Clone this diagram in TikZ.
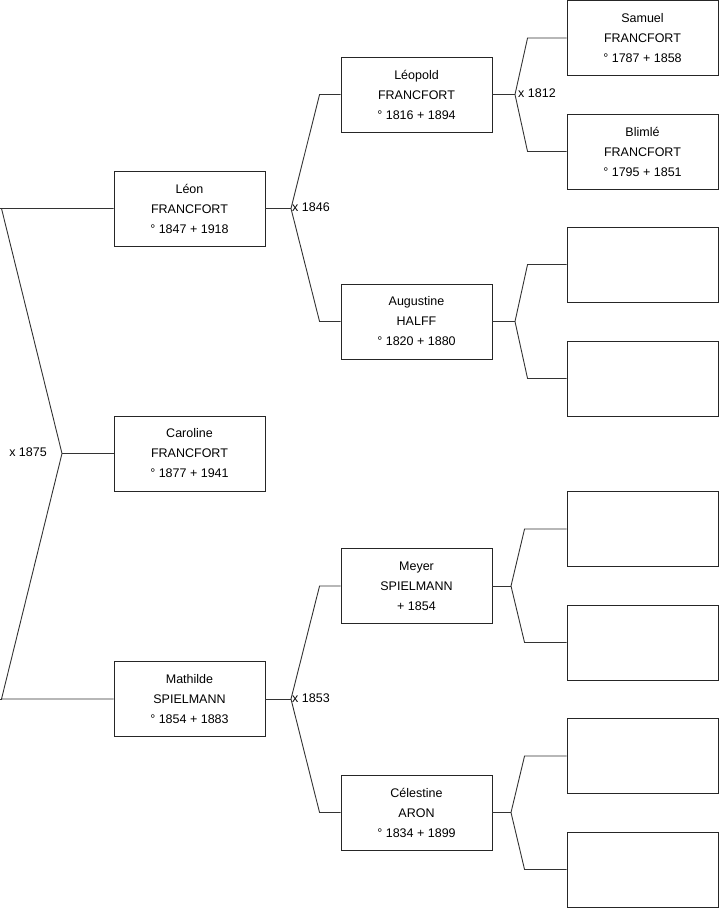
\documentclass[tikz,border=0pt]{standalone}
\usepackage{fontspec}
\setmainfont{Liberation Sans}
\begin{document}
\begin{tikzpicture}[x=1pt,y=-1pt,
  person/.style={draw=black!85,line width=0.9pt,minimum width=151pt,minimum height=75pt,inner sep=0pt,align=center,font=\fontsize{12.5}{20}\selectfont},
  link/.style={draw=black!80,line width=0.9pt},
  mlabel/.style={inner sep=1pt,font=\fontsize{12.5}{15}\selectfont}]
\useasboundingbox (0,0) rectangle (719,908);
% level 1
\node[person] (leon) at (189.5,208.5) {Léon\\FRANCFORT\\° 1847 + 1918};
\node[person] (caroline) at (189.5,453.5) {Caroline\\FRANCFORT\\° 1877 + 1941};
\node[person] (mathilde) at (189.5,699) {Mathilde\\SPIELMANN\\° 1854 + 1883};
% level 2
\node[person] (leopold) at (416.5,94.5) {Léopold\\FRANCFORT\\° 1816 + 1894};
\node[person] (augustine) at (416.5,321.5) {Augustine\\HALFF\\° 1820 + 1880};
\node[person] (meyer) at (416.5,586) {Meyer\\SPIELMANN\\+ 1854};
\node[person] (celestine) at (416.5,812.5) {Célestine\\ARON\\° 1834 + 1899};
% level 3
\node[person] (samuel) at (642.5,38) {Samuel\\FRANCFORT\\° 1787 + 1858};
\node[person] (blimle) at (642.5,151.5) {Blimlé\\FRANCFORT\\° 1795 + 1851};
\node[person] (e1) at (642.5,264.5) {};
\node[person] (e2) at (642.5,378.5) {};
\node[person] (e3) at (642.5,529) {};
\node[person] (e4) at (642.5,642.5) {};
\node[person] (e5) at (642.5,756) {};
\node[person] (e6) at (642.5,869.5) {};
% fork points
\coordinate (froot) at (62,453.5);
\coordinate (fleon) at (291,208.5);
\coordinate (fmath) at (291,699);
\coordinate (fleop) at (515,94.5);
\coordinate (faug) at (515,321.5);
\coordinate (fmey) at (511,586);
\coordinate (fcel) at (511,812.5);
% root
\draw[link] (froot) -- (caroline.west);
\draw[link] (froot) -- (1.5,208.5) -- (leon.west);
\draw[link] (1.5,208.5) -- (0,208.5);
\draw[link] (froot) -- (1.5,699) -- (mathilde.west);
\draw[link] (1.5,699) -- (0,699);
\node[mlabel,anchor=east] (l1875) at (48,452) {x 1875};
% Leon
\draw[link] (leon.east) -- (fleon);
\draw[link] (fleon) -- ([xshift=-21pt]leopold.west) -- (leopold.west);
\draw[link] (fleon) -- ([xshift=-21pt]augustine.west) -- (augustine.west);
\node[mlabel,anchor=west] (l1846) at (291,207.5) {x 1846};
% Mathilde
\draw[link] (mathilde.east) -- (fmath);
\draw[link] (fmath) -- ([xshift=-21pt]meyer.west) -- (meyer.west);
\draw[link] (fmath) -- ([xshift=-21pt]celestine.west) -- (celestine.west);
\node[mlabel,anchor=west] (l1853) at (291,698) {x 1853};
% Leopold
\draw[link] (leopold.east) -- (fleop);
\draw[link] (fleop) -- ([xshift=-39pt]samuel.west) -- (samuel.west);
\draw[link] (fleop) -- ([xshift=-39pt]blimle.west) -- (blimle.west);
\node[mlabel,anchor=west] (l1812) at (517,93.5) {x 1812};
% Augustine
\draw[link] (augustine.east) -- (faug);
\draw[link] (faug) -- ([xshift=-39pt]e1.west) -- (e1.west);
\draw[link] (faug) -- ([xshift=-39pt]e2.west) -- (e2.west);
% Meyer
\draw[link] (meyer.east) -- (fmey);
\draw[link] (fmey) -- ([xshift=-42pt]e3.west) -- (e3.west);
\draw[link] (fmey) -- ([xshift=-42pt]e4.west) -- (e4.west);
% Celestine
\draw[link] (celestine.east) -- (fcel);
\draw[link] (fcel) -- ([xshift=-42pt]e5.west) -- (e5.west);
\draw[link] (fcel) -- ([xshift=-42pt]e6.west) -- (e6.west);
\end{tikzpicture}
\end{document}
